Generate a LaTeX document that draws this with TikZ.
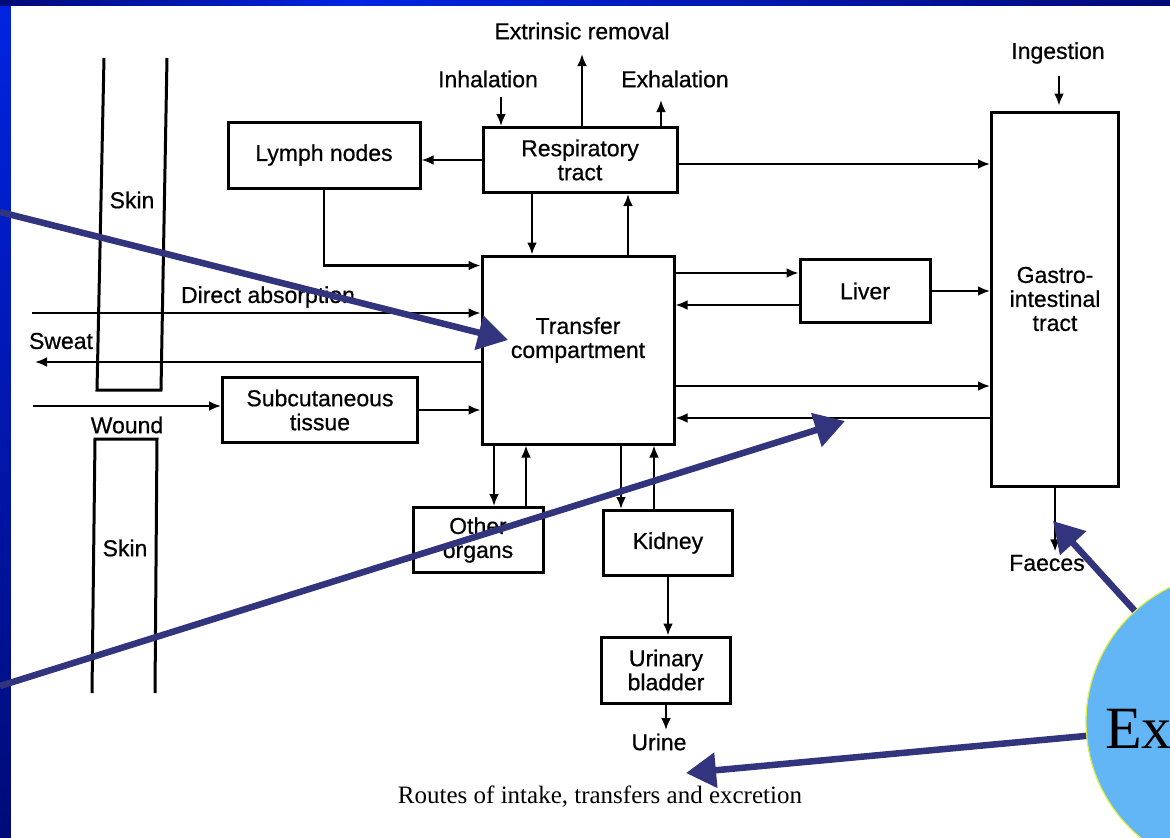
\documentclass[tikz,border=0pt]{standalone}
\usepackage{fontspec}
\setmainfont{Liberation Sans}
\newfontfamily\labelfont{Liberation Sans}[FakeBold=0.6]
\newfontfamily\timesfont{Liberation Serif}
\usetikzlibrary{arrows.meta}
\definecolor{slidenavy}{RGB}{0,10,120}
\definecolor{slideblue}{RGB}{0,36,225}
\definecolor{arrownavy}{RGB}{50,52,125}
\definecolor{bubble}{RGB}{98,182,246}
\definecolor{bubbleedge}{RGB}{225,240,60}
\tikzset{
  organ/.style={draw, line width=3pt, align=center, inner sep=0pt},
  route/.style={line width=2.6pt, -{Latex[length=12pt,width=10pt]}},
  pointer arrow/.style={color=arrownavy, line width=6.5pt, -{Triangle[length=30pt,width=34pt]}},
}
\begin{document}
\begin{tikzpicture}[x=1pt,y=-1pt,font=\labelfont\fontsize{23}{24}\selectfont]
  \useasboundingbox (0,0) rectangle (1170,838);
  \clip (0,0) rectangle (1170,838);
  \fill[slidenavy] (0,0) rectangle (1170,838);
  \shade[left color=slidenavy, right color=slideblue] (0,0) rectangle (350,6);
  \shade[left color=slideblue, right color=slidenavy] (350,0) rectangle (1170,6);
  \shade[top color=slideblue, bottom color=slidenavy] (0,6) rectangle (11,838);
  \fill[white] (11,6) rectangle (1170,838);

  \draw[line width=3pt] (104,58) -- (97,390) -- (161,390) -- (167,58);
  \node (skin1) at (132,200) {Skin};
  \draw[line width=3pt] (92,693) -- (95,439) -- (157,439) -- (155,693);
  \node (skin2) at (125,548) {Skin};

  \node[organ, minimum width=192pt, minimum height=66pt] (lymph) at (324,155) {Lymph nodes};
  \node[organ, minimum width=194pt, minimum height=65pt] (resp) at (580,160) {Respiratory\\tract};
  \node[organ, minimum width=192pt, minimum height=188pt,
        label={[align=center, yshift=10pt]center:Transfer\\compartment}] (transfer) at (578,350) {};
  \node[organ, minimum width=130pt, minimum height=63pt] (liver) at (865,291) {Liver};
  \node[organ, minimum width=127pt, minimum height=374pt] (gi) at (1055,299) {Gastro-\\intestinal\\tract};
  \node[organ, minimum width=195pt, minimum height=65pt] (subcut) at (320,410) {Subcutaneous\\tissue};
  \node[organ, minimum width=130pt, minimum height=65pt] (other) at (478,540) {Other\\organs};
  \node[organ, minimum width=129pt, minimum height=65pt] (kidney) at (668,543) {Kidney};
  \node[organ, minimum width=129pt, minimum height=66pt] (bladder) at (666,670) {Urinary\\bladder};

  \node (direct) at (268,297) {Direct absorption};
  \node (sweat) at (61,341) {Sweat};
  \node (wound) at (127,425) {Wound};
  \node (inhal) at (488,79) {Inhalation};
  \node (extr) at (582,31) {Extrinsic removal};
  \node (exhal) at (675,79) {Exhalation};
  \node (ingest) at (1058,53) {Ingestion};
  \node (faeces) at (1047,563) {Faeces};
  \node (urine) at (659,742) {Urine};
  \node[font=\timesfont\fontsize{25}{27}\selectfont] (caption) at (600,797) {Routes of intake, transfers and excretion};

  \coordinate (inhal-in) at (501,97);
  \coordinate (extr-out) at (582,54);
  \coordinate (exhal-out) at (661,100);
  \coordinate (ingest-in) at (1059,76);
  \coordinate (direct-in) at (32,313);
  \coordinate (sweat-out) at (35,362);
  \coordinate (wound-in) at (33,406);

  \draw[route] (inhal-in) -- (inhal-in |- resp.north);
  \draw[route] (resp.north -| extr-out) -- (extr-out);
  \draw[route] (exhal-out |- resp.north) -- (exhal-out);
  \draw[route] (resp.west) -- (resp.west -| lymph.east);
  \draw[route] ([yshift=-4pt]resp.east) -- ([yshift=-4pt]resp.east -| gi.west);
  \draw[route] ([xshift=-48pt]resp.south) -- ([xshift=-48pt]resp.south |- transfer.north);
  \draw[route] ([xshift=48pt]resp.south |- transfer.north) -- ([xshift=48pt]resp.south);
  \draw[route] (lymph.south) |- ([yshift=-11pt]transfer.north west);
  \draw[route] (direct-in) -- (direct-in -| transfer.west);
  \draw[route] (sweat-out -| transfer.west) -- (sweat-out);
  \draw[route] (wound-in) -- (wound-in -| subcut.west);
  \draw[route] (subcut.east) -- (subcut.east -| transfer.west);
  \draw[route] ([yshift=18pt]liver.west -| transfer.east) -- ([yshift=18pt]liver.west);
  \draw[route] ([yshift=-14pt]liver.west) -- ([yshift=-14pt]liver.west -| transfer.east);
  \draw[route] (liver.east) -- (liver.east -| gi.west);
  \draw[route] ([yshift=-36pt]transfer.east) -- ([yshift=-36pt]transfer.east -| gi.west);
  \draw[route] ([yshift=-68pt]transfer.east -| gi.west) -- ([yshift=-68pt]transfer.east);
  \draw[route] (ingest-in) -- ([yshift=5pt]ingest-in |- gi.north);
  \draw[route] (gi.south) -- (gi.south |- faeces.north);
  \draw[route] ([xshift=16pt]other.north |- transfer.south) -- ([xshift=16pt]other.north);
  \draw[route] ([xshift=48pt]other.north) -- ([xshift=48pt]other.north |- transfer.south);
  \draw[route] ([xshift=-47pt]kidney.north |- transfer.south) -- ([xshift=-47pt]kidney.north);
  \draw[route] ([xshift=-14pt]kidney.north) -- ([xshift=-14pt]kidney.north |- transfer.south);
  \draw[route] (kidney.south) -- (kidney.south |- bladder.north);
  \draw[route] (bladder.south) -- (bladder.south |- urine.north);

  \node[circle, fill=bubble, draw=bubbleedge, line width=1.2pt, minimum size=300pt] (excr) at (1236,722) {};
  \node[anchor=base west, inner sep=0pt, font=\timesfont\fontsize{60}{60}\selectfont] (extext) at (1105,748) {Ex};
  \coordinate (p1) at (0,212);
  \coordinate (p1tip) at (508,340);
  \coordinate (p2) at (0,686);
  \coordinate (p2tip) at (845,421);
  \coordinate (p3tip) at (1053,521);
  \coordinate (p4tip) at (686,773);
  \draw[pointer arrow] (p1) -- (p1tip);
  \draw[pointer arrow] (p2) -- (p2tip);
  \draw[pointer arrow] (excr) -- (p3tip);
  \draw[pointer arrow] (excr) -- (p4tip);
\end{tikzpicture}
\end{document}
